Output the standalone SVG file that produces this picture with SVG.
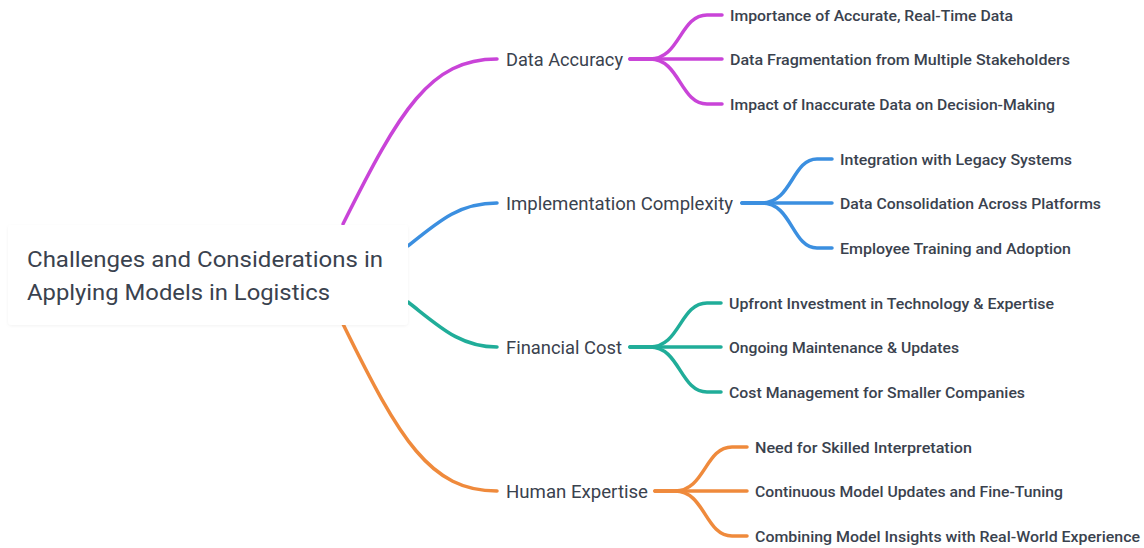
<svg xmlns="http://www.w3.org/2000/svg" width="1144" height="548" viewBox="0 0 1144 548">
<defs>
<filter id="sh" x="-5%" y="-10%" width="110%" height="125%"><feDropShadow dx="0" dy="1" stdDeviation="1.5" flood-color="#000" flood-opacity="0.05"/></filter>
</defs>
<style>
text{font-family:Roboto,"Liberation Sans",sans-serif;fill:#3a424e;}
.root{font-size:22px;font-weight:400;}
.l1{font-size:18px;font-weight:400;}
.l2{font-size:15px;font-weight:500;}
path{fill:none;stroke-linecap:round;}
.m{stroke-width:3.5;}
.f{stroke-width:3.5;}
.p{stroke:#c944d8;}
.b{stroke:#3b8fe0;}
.t{stroke:#20ad99;}
.o{stroke:#ef8a3c;}
</style>
<rect width="1144" height="548" fill="#fff"/>
<g id="connectors">
<path class="m p" d="M343,224 C400,110 430,59 497,59"/>
<path class="m b" d="M408,246 C440,220 460,203 497,203"/>
<path class="m t" d="M408,302 C440,327 460,347 497,347"/>
<path class="m o" d="M343,324 C400,440 430,491 497,491"/>
<path class="f p" d="M630,59 H650 C680,59 680,15 707,15 H722"/>
<path class="f p" d="M630,59 H722"/>
<path class="f p" d="M630,59 H650 C680,59 680,104 707,104 H722"/>
<path class="f b" d="M742,203 H762 C792,203 792,159 817,159 H832"/>
<path class="f b" d="M742,203 H832"/>
<path class="f b" d="M742,203 H762 C792,203 792,248 817,248 H832"/>
<path class="f t" d="M630,347 H650 C680,347 680,303 707,303 H721"/>
<path class="f t" d="M630,347 H721"/>
<path class="f t" d="M630,347 H650 C680,347 680,392 707,392 H721"/>
<path class="f o" d="M655,491 H675 C705,491 705,447 732,447 H747"/>
<path class="f o" d="M655,491 H747"/>
<path class="f o" d="M655,491 H675 C705,491 705,536 732,536 H747"/>
</g>
<g id="root">
<rect x="8" y="225" width="400" height="100" rx="4" fill="#fff" filter="url(#sh)"/>
<text class="root" x="27" y="267" textLength="356" lengthAdjust="spacingAndGlyphs">Challenges and Considerations in</text>
<text class="root" x="27" y="300" textLength="303" lengthAdjust="spacingAndGlyphs">Applying Models in Logistics</text>
</g>
<g id="data-accuracy">
<text class="l1" x="506" y="65.5" textLength="117" lengthAdjust="spacingAndGlyphs">Data Accuracy</text>
</g>
<g id="da-1"><text class="l2" x="730" y="20.5" textLength="283" lengthAdjust="spacingAndGlyphs">Importance of Accurate, Real-Time Data</text></g>
<g id="da-2"><text class="l2" x="730" y="64.5" textLength="340" lengthAdjust="spacingAndGlyphs">Data Fragmentation from Multiple Stakeholders</text></g>
<g id="da-3"><text class="l2" x="730" y="109.5" textLength="325" lengthAdjust="spacingAndGlyphs">Impact of Inaccurate Data on Decision-Making</text></g>
<g id="implementation-complexity">
<text class="l1" x="506" y="209.5" textLength="227" lengthAdjust="spacingAndGlyphs">Implementation Complexity</text>
</g>
<g id="ic-1"><text class="l2" x="840" y="164.5" textLength="232" lengthAdjust="spacingAndGlyphs">Integration with Legacy Systems</text></g>
<g id="ic-2"><text class="l2" x="840" y="208.5" textLength="261" lengthAdjust="spacingAndGlyphs">Data Consolidation Across Platforms</text></g>
<g id="ic-3"><text class="l2" x="840" y="253.5" textLength="231" lengthAdjust="spacingAndGlyphs">Employee Training and Adoption</text></g>
<g id="financial-cost">
<text class="l1" x="506" y="353.5" textLength="116" lengthAdjust="spacingAndGlyphs">Financial Cost</text>
</g>
<g id="fc-1"><text class="l2" x="729" y="308.5" textLength="325" lengthAdjust="spacingAndGlyphs">Upfront Investment in Technology &amp; Expertise</text></g>
<g id="fc-2"><text class="l2" x="729" y="352.5" textLength="230" lengthAdjust="spacingAndGlyphs">Ongoing Maintenance &amp; Updates</text></g>
<g id="fc-3"><text class="l2" x="729" y="397.5" textLength="296" lengthAdjust="spacingAndGlyphs">Cost Management for Smaller Companies</text></g>
<g id="human-expertise">
<text class="l1" x="506" y="497.5" textLength="142" lengthAdjust="spacingAndGlyphs">Human Expertise</text>
</g>
<g id="he-1"><text class="l2" x="755" y="452.5" textLength="217" lengthAdjust="spacingAndGlyphs">Need for Skilled Interpretation</text></g>
<g id="he-2"><text class="l2" x="755" y="496.5" textLength="308" lengthAdjust="spacingAndGlyphs">Continuous Model Updates and Fine-Tuning</text></g>
<g id="he-3"><text class="l2" x="755" y="541.5" textLength="385" lengthAdjust="spacingAndGlyphs">Combining Model Insights with Real-World Experience</text></g>
</svg>
